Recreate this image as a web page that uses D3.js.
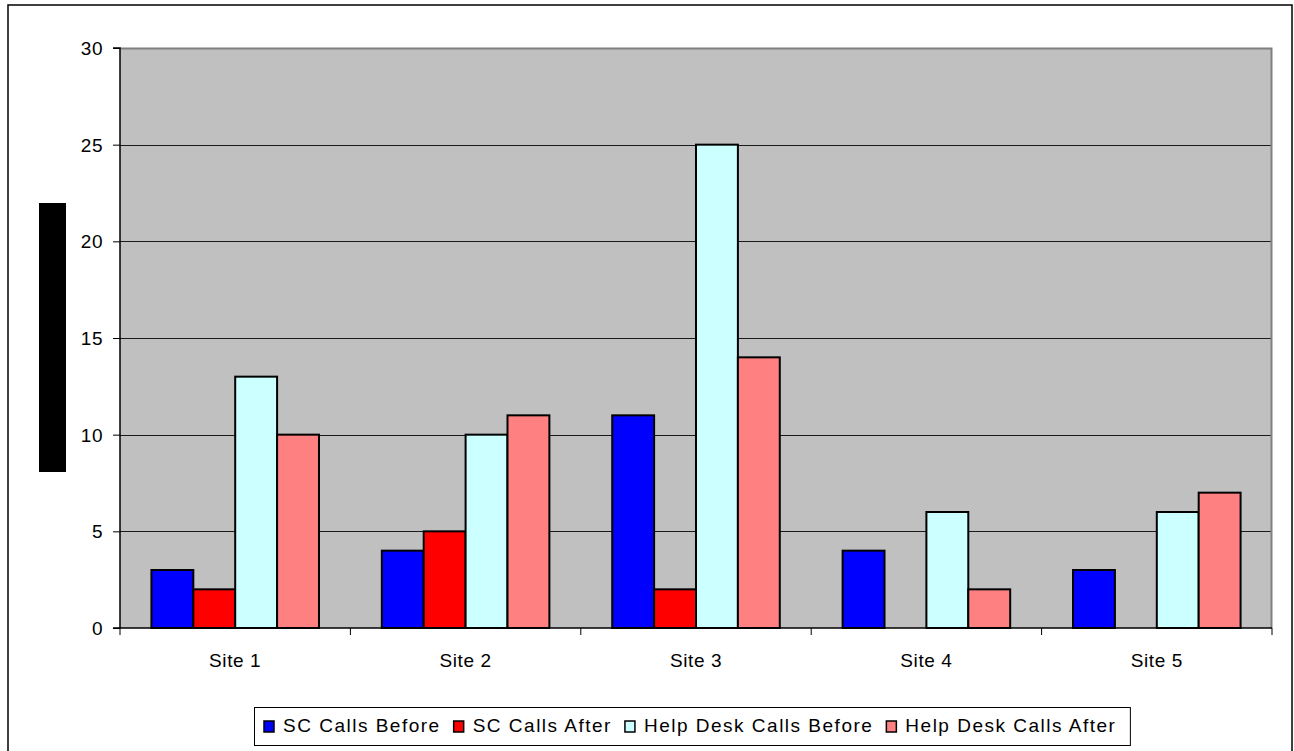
<!DOCTYPE html>
<html>
<head>
<meta charset="utf-8">
<script src="https://cdn.jsdelivr.net/npm/d3@7"></script>
<style>
  html, body { margin: 0; padding: 0; background: #fff; }
  svg { display: block; }
  text { font-family: "Liberation Sans", Arial, sans-serif; fill: #000; }
</style>
</head>
<body>
<svg id="chart" width="1294" height="751"></svg>
<script>
// Call counts per site, before and after the change
const sites = ["Site 1", "Site 2", "Site 3", "Site 4", "Site 5"];
const seriesNames = ["SC Calls Before", "SC Calls After", "Help Desk Calls Before", "Help Desk Calls After"];
const scCallsBefore = [3, 4, 11, 4, 3];
const scCallsAfter = [2, 5, 2, 0, 0];
const helpDeskBefore = [13, 10, 25, 6, 6];
const helpDeskAfter = [10, 11, 14, 2, 7];
const seriesColors = ["#0000FF", "#FF0000", "#CCFFFF", "#FF8080"];
const yTicks = [0, 5, 10, 15, 20, 25, 30];

const seriesValues = [scCallsBefore, scCallsAfter, helpDeskBefore, helpDeskAfter];
const rows = sites.map((s, i) => ({
  site: s,
  values: seriesNames.map((n, k) => ({ name: n, value: seriesValues[k][i], color: seriesColors[k] }))
}));

const svg = d3.select("#chart");
const plot = { left: 120, top: 48, right: 1272, bottom: 628 };

// outer chart frame
svg.append("rect")
  .attr("x", 8).attr("y", 5).attr("width", 1284).attr("height", 780)
  .attr("fill", "#fff").attr("stroke", "#000").attr("stroke-width", 1.5);

// dark block left of the value axis
svg.append("rect")
  .attr("x", 39).attr("y", 203).attr("width", 27).attr("height", 269)
  .attr("fill", "#000");

const y = d3.scaleLinear().domain([0, 30]).range([plot.bottom, plot.top]);
const x0 = d3.scaleBand().domain(sites).range([plot.left, plot.right]).paddingInner(0).paddingOuter(0);
const x1 = d3.scaleBand().domain(seriesNames).range([0, x0.bandwidth()]).paddingInner(0).paddingOuter(0.75);

// plot area background
svg.append("rect")
  .attr("x", plot.left).attr("y", plot.top)
  .attr("width", plot.right - plot.left).attr("height", plot.bottom - plot.top)
  .attr("fill", "#C0C0C0");

// horizontal gridlines
svg.append("g").selectAll("line")
  .data(yTicks.filter(t => t > 0 && t < 30))
  .join("line")
  .attr("x1", plot.left).attr("x2", plot.right)
  .attr("y1", d => Math.round(y(d)) + 0.5).attr("y2", d => Math.round(y(d)) + 0.5)
  .attr("stroke", "#1a1a1a").attr("stroke-width", 1);

// plot area border on top and right
svg.append("path")
  .attr("d", `M${plot.left},${plot.top + 0.5}H${plot.right - 0.5}V${plot.bottom}`)
  .attr("fill", "none").attr("stroke", "#808080").attr("stroke-width", 2);

// bars
svg.append("g").selectAll("g")
  .data(rows)
  .join("g")
  .attr("transform", d => `translate(${x0(d.site)},0)`)
  .selectAll("rect")
  .data(d => d.values.filter(v => v.value > 0))
  .join("rect")
  .attr("x", d => x1(d.name))
  .attr("y", d => y(d.value))
  .attr("width", x1.bandwidth())
  .attr("height", d => y(0) - y(d.value))
  .attr("fill", d => d.color)
  .attr("stroke", "#000").attr("stroke-width", 2);

// value axis
const yAxis = d3.axisLeft(y).tickValues(yTicks).tickSize(7).tickPadding(10).tickFormat(d3.format("d"));
const gy = svg.append("g").attr("transform", `translate(${plot.left},0)`).call(yAxis);
gy.select(".domain").attr("stroke", "#000").attr("stroke-width", 1.5).attr("d", `M-7,${plot.top}H0V${plot.bottom}H-7`);
gy.selectAll(".tick line").attr("stroke", "#000");
gy.selectAll(".tick text")
  .attr("font-size", 19)
  .attr("letter-spacing", 0.5)
  .attr("font-family", "Liberation Sans, Arial, sans-serif")
  .attr("fill", "#000").attr("dy", "0.34em");

// category axis
svg.append("line")
  .attr("x1", plot.left).attr("x2", plot.right)
  .attr("y1", plot.bottom).attr("y2", plot.bottom)
  .attr("stroke", "#000").attr("stroke-width", 1.5);
const boundaries = sites.map(s => x0(s)).concat([plot.right]);
svg.append("g").selectAll("line")
  .data(boundaries)
  .join("line")
  .attr("x1", d => d).attr("x2", d => d)
  .attr("y1", plot.bottom).attr("y2", plot.bottom + 7)
  .attr("stroke", "#000").attr("stroke-width", 1);
svg.append("g").selectAll("text")
  .data(sites)
  .join("text")
  .attr("x", d => x0(d) + x0.bandwidth() / 2)
  .attr("y", plot.bottom + 39)
  .attr("text-anchor", "middle")
  .attr("font-size", 19)
  .attr("letter-spacing", 0.6)
  .text(d => d);

// legend: swatch, label, then the next entry after a small gap
const legend = svg.append("g");
const legendBox = legend.append("rect")
  .attr("x", 254.5).attr("y", 707.5).attr("height", 38)
  .attr("fill", "#fff").attr("stroke", "#000").attr("stroke-width", 1);
let lx = 264;
let lastEnd = lx;
seriesNames.forEach((name, k) => {
  legend.append("rect")
    .attr("x", lx).attr("y", 721).attr("width", 10).attr("height", 11)
    .attr("fill", seriesColors[k]).attr("stroke", "#000").attr("stroke-width", 1.5);
  const t = legend.append("text")
    .attr("x", lx + 19).attr("y", 732)
    .attr("font-size", 19)
    .attr("letter-spacing", 1.5)
    .text(name);
  lastEnd = lx + 19 + t.node().getComputedTextLength();
  lx = lastEnd + 13;
});
legendBox.attr("width", lastEnd + 14 - 254.5);
</script>
</body>
</html>
